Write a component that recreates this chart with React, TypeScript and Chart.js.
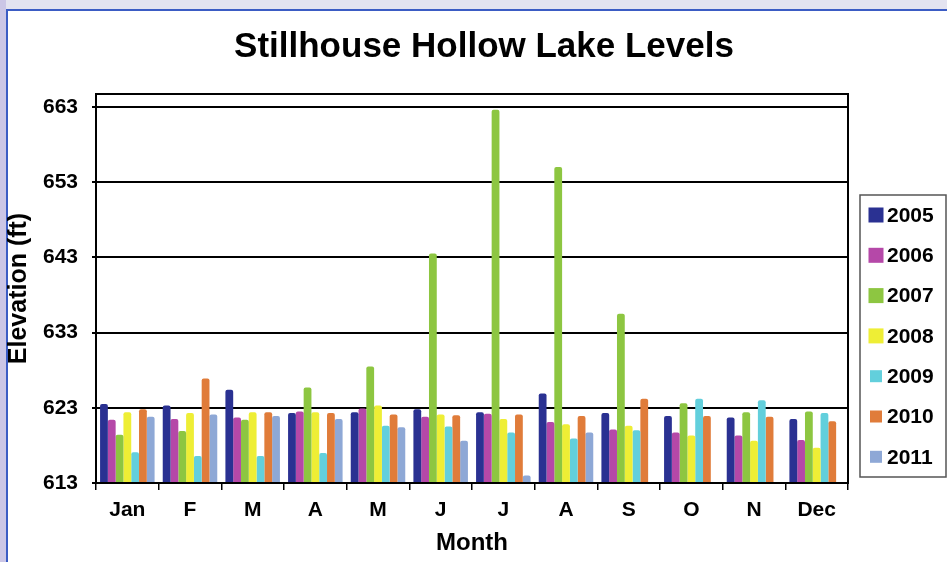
import React, { useEffect, useRef } from "react";
import { Chart, registerables } from "chart.js";

Chart.register(...registerables);

const months = ["Jan", "F", "M", "A", "M", "J", "J", "A", "S", "O", "N", "Dec"];
const seriesNames = ["2005", "2006", "2007", "2008", "2009", "2010", "2011"];
const y2005 = [623.5, 623.3, 625.4, 622.3, 622.4, 622.8, 622.4, 624.9, 622.3, 621.9, 621.7, 621.5];
const y2006 = [621.4, 621.5, 621.7, 622.5, 622.9, 621.8, 622.2, 621.1, 620.1, 619.7, 619.3, 618.7];
const y2007 = [619.4, 619.9, 621.4, 625.7, 628.5, 643.5, 662.6, 655.0, 635.5, 623.6, 622.4, 622.5];
const y2008 = [622.4, 622.3, 622.4, 622.4, 623.3, 622.1, 621.5, 620.8, 620.6, 619.3, 618.6, 617.7];
const y2009 = [617.1, 616.6, 616.6, 617.0, 620.6, 620.5, 619.7, 618.9, 620.0, 624.2, 624.0, 622.3];
const y2010 = [622.8, 626.9, 622.4, 622.3, 622.1, 622.0, 622.1, 621.9, 624.2, 621.9, 621.8, 621.2];
const y2011 = [621.8, 622.1, 621.9, 621.5, 620.4, 618.6, 614.0, 619.7, null, null, null, null];
const yTicks = [613, 623, 633, 643, 653, 663];
const colors = ["#2a3192", "#b548a8", "#8dc641", "#eeee35", "#62cfdc", "#e07c3a", "#8ea8d6"];

const FONT = "'Liberation Sans', Arial, sans-serif";

const framePlugin = {
  id: "frame",
  beforeDraw(chart: any) {
    const { ctx, width, height } = chart;
    ctx.save();
    ctx.fillStyle = "#e3e3f0";
    ctx.fillRect(0, 0, width, height);
    ctx.fillStyle = "#cbc6e6";
    ctx.fillRect(0, 0, 6, height);
    ctx.fillStyle = "#ffffff";
    ctx.fillRect(6, 9, width - 6, height - 9);
    ctx.strokeStyle = "#3b5cc4";
    ctx.lineWidth = 2;
    ctx.beginPath();
    ctx.moveTo(7, height);
    ctx.lineTo(7, 10);
    ctx.lineTo(width, 10);
    ctx.stroke();
    // title
    ctx.fillStyle = "#000";
    ctx.font = `bold 35px ${FONT}`;
    ctx.textAlign = "center";
    ctx.textBaseline = "middle";
    ctx.fillText("Stillhouse Hollow Lake Levels", 484, 47);
    ctx.restore();
  },
  afterDraw(chart: any) {
    const { ctx, chartArea } = chart;
    ctx.save();
    ctx.strokeStyle = "#000";
    ctx.lineWidth = 2;
    ctx.strokeRect(chartArea.left, chartArea.top, chartArea.right - chartArea.left, chartArea.bottom - chartArea.top);
    // legend
    const lx = 860, ly = 195, lw = 86, lh = 282;
    ctx.strokeStyle = "#555";
    ctx.lineWidth = 1.5;
    ctx.strokeRect(lx, ly, lw, lh);
    ctx.font = `bold 21px ${FONT}`;
    ctx.textAlign = "left";
    ctx.textBaseline = "middle";
    chart.data.datasets.forEach((ds: any, i: number) => {
      const cy = 215 + i * 40.3;
      const s = i < 4 ? 15 : 12;
      ctx.fillStyle = ds.backgroundColor;
      ctx.fillRect(876 - s / 2, cy - s / 2, s, s);
      ctx.fillStyle = "#000";
      ctx.fillText(ds.label, 887, cy + 1);
    });
    ctx.restore();
  },
};

export default function App() {
  const ref = useRef<HTMLCanvasElement | null>(null);
  useEffect(() => {
    if (!ref.current) return;
    const seriesData = [y2005, y2006, y2007, y2008, y2009, y2010, y2011];
    const chart = new Chart(ref.current, {
      type: "bar",
      data: {
        labels: months,
        datasets: seriesNames.map((name, i) => ({
          label: name,
          data: seriesData[i],
          backgroundColor: colors[i],
          borderWidth: 0,
          borderRadius: 2,
          categoryPercentage: 0.87,
          barPercentage: 1.0,
        })),
      },
      options: {
        responsive: false,
        animation: false,
        devicePixelRatio: 1,
        layout: { padding: { top: 94, right: 99, left: 0, bottom: 0 } },
        plugins: {
          legend: { display: false },
          title: { display: false },
          tooltip: { enabled: false },
        },
        scales: {
          x: {
            afterFit: (s: any) => { s.height = 79; },
            grid: { offset: true, drawOnChartArea: false, drawTicks: true, tickLength: 7, color: "#000", lineWidth: 1.5 },
            border: { display: true, color: "#000", width: 2 },
            ticks: { color: "#000", font: { family: FONT, size: 21, weight: "bold" }, padding: 8, autoSkip: false, maxRotation: 0 },
            title: { display: true, text: "Month", color: "#000", font: { family: FONT, size: 24, weight: "bold" }, padding: { top: 0, bottom: 4 } },
          },
          y: {
            min: 613,
            max: 664.7,
            afterFit: (s: any) => { s.width = 96; },
            afterBuildTicks: (s: any) => { s.ticks = yTicks.map((v) => ({ value: v })); },
            grid: { color: "#000", lineWidth: 2, drawTicks: true, tickLength: 4 },
            border: { display: true, color: "#000", width: 2 },
            ticks: { color: "#000", font: { family: FONT, size: 21, weight: "bold" }, padding: 14 },
            title: { display: true, text: "Elevation (ft)", color: "#000", font: { family: FONT, size: 25, weight: "bold" }, padding: { top: 4, bottom: 0 } },
          },
        },
      },
      plugins: [framePlugin],
    });
    return () => chart.destroy();
  }, []);
  return (
    <div style={{ position: "fixed", left: 0, top: 0, width: 947, height: 562 }}>
      <canvas ref={ref} width={947} height={562} style={{ display: "block", width: 947, height: 562 }} />
    </div>
  );
}
